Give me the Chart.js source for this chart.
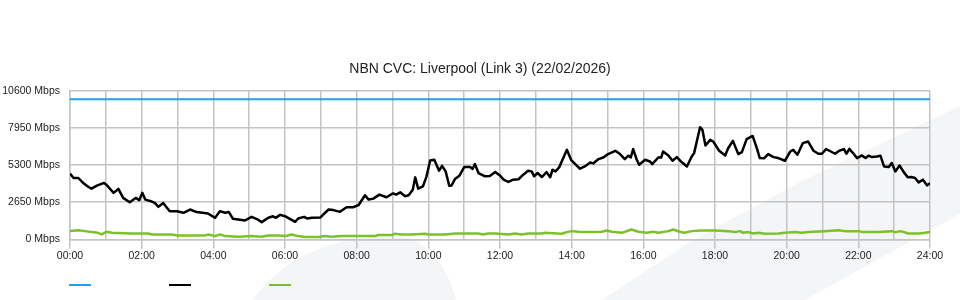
<!DOCTYPE html>
<html>
<head>
<meta charset="utf-8">
<title>NBN CVC: Liverpool (Link 3)</title>
<script src="https://cdn.jsdelivr.net/npm/chart.js@4/dist/chart.umd.min.js"></script>
<style>
  html, body { margin: 0; padding: 0; background: #fff; }
  #chart { display: block; }
</style>
</head>
<body>
<canvas id="chart" width="960" height="300"></canvas>
<script>
// ------------------------------------------------------
// Data (minutes since midnight, Mbps)
// ------------------------------------------------------
const chartTitle = 'NBN CVC: Liverpool (Link 3) (22/02/2026)';

const timeLabels = ['00:00', '02:00', '04:00', '06:00', '08:00', '10:00', '12:00',
  '14:00', '16:00', '18:00', '20:00', '22:00', '24:00'];
const yTicks = [0, 2650, 5300, 7950, 10600];

// CVC capacity
const capacityMinutes = [0, 1440];
const capacityMbps = [10000, 10000];

// download traffic (black)
const downMinutes = [
  0, 6, 14, 22, 31, 36, 45, 57, 61, 73,
  81, 89, 100, 110, 116, 121, 126, 137, 142, 148,
  156, 167, 179, 190, 201, 212, 231, 243, 251, 260,
  266, 273, 293, 304, 313, 321, 332, 340, 344, 352,
  360, 377, 382, 392, 397, 405, 419, 424, 433, 441,
  452, 463, 474, 483, 494, 500, 508, 518, 530, 541,
  546, 553, 561, 567, 574, 578, 583, 591, 597, 603,
  610, 618, 623, 629, 635, 639, 645, 652, 660, 670,
  674, 678, 684, 695, 703, 712, 720, 726, 734, 742,
  751, 759, 767, 773, 777, 783, 790, 798, 804, 808,
  813, 819, 832, 839, 846, 854, 862, 871, 876, 885,
  893, 901, 913, 921, 929, 935, 939, 943, 949, 953,
  963, 971, 975, 985, 990, 993, 1002, 1009, 1016, 1024,
  1033, 1041, 1045, 1055, 1059, 1064, 1072, 1077, 1080, 1087,
  1097, 1102, 1110, 1119, 1125, 1133, 1143, 1150, 1155, 1162,
  1169, 1178, 1186, 1193, 1197, 1206, 1211, 1218, 1227, 1236,
  1245, 1253, 1259, 1266, 1274, 1281, 1288, 1296, 1300, 1305,
  1312, 1318, 1326, 1332, 1337, 1343, 1351, 1357, 1363, 1371,
  1376, 1382, 1389, 1396, 1403, 1409, 1415, 1421, 1428, 1435,
  1440
];
const downMbps = [
  4690, 4380, 4380, 4030, 3740, 3620, 3830, 4030, 3900, 3320,
  3600, 2960, 2650, 2960, 2800, 3320, 2840, 2700, 2600, 2320,
  2600, 2010, 2010, 1900, 2130, 1950, 1850, 1540, 2010, 1900,
  1950, 1470, 1350, 1610, 1450, 1230, 1540, 1650, 1540, 1750,
  1655, 1255, 1490, 1610, 1490, 1540, 1560, 1775, 2130, 2090,
  1965, 2295, 2295, 2440, 3150, 2840, 2910, 3195, 3005, 3290,
  3195, 3360, 3075, 3150, 3550, 4425, 3620, 3785, 4500, 5630,
  5680, 4900, 5250, 4850, 3830, 3850, 4330, 4540, 5160, 5160,
  5020, 5370, 4735, 4500, 4520, 4800, 4560, 4260, 4095, 4260,
  4290, 4615, 4900, 4850, 4500, 4735, 4450, 4800, 4430, 4970,
  4850, 5135, 6390, 5680, 5370, 5040, 5205, 5490, 5420, 5730,
  5845, 6085, 6320, 6085, 5730, 5970, 5845, 6440, 5680, 5325,
  5680, 5560, 5370, 5845, 5845, 6270, 5990, 5610, 5870, 5515,
  5205, 5915, 6155, 8000, 7810, 6700, 7100, 6980, 6790, 6320,
  5990, 6500, 7030, 6085, 6230, 7150, 7380, 6510, 5800, 5780,
  6085, 5870, 5800, 5680, 5610, 6270, 6390, 6040, 6865, 6980,
  6320, 6110, 6110, 6440, 6270, 6110, 6320, 6440, 6110, 6460,
  6110, 5800, 5990, 5800, 5970, 5870, 5915, 5970, 5205, 5160,
  5445, 4850, 5275, 4800, 4425, 4450, 4380, 4070, 4260, 3855,
  4000
];

// upload traffic (green)
const upMinutes = [
  0, 14, 25, 36, 47, 53, 61, 70, 103, 131,
  137, 170, 181, 226, 232, 243, 251, 260, 282, 304,
  321, 332, 349, 360, 371, 382, 394, 416, 427, 438,
  455, 483, 511, 516, 538, 544, 555, 572, 595, 600,
  628, 645, 684, 692, 700, 712, 734, 745, 756, 767,
  790, 795, 823, 832, 840, 851, 862, 890, 899, 907,
  924, 940, 952, 966, 977, 985, 1002, 1010, 1021, 1029,
  1041, 1055, 1080, 1102, 1113, 1122, 1127, 1136, 1144, 1153,
  1164, 1186, 1197, 1214, 1225, 1236, 1264, 1287, 1298, 1321,
  1327, 1354, 1376, 1382, 1391, 1404, 1421, 1432, 1440
];
const upMbps = [
  590, 660, 590, 520, 470, 355, 545, 470, 426, 426,
  355, 355, 284, 284, 355, 236, 355, 236, 190, 236,
  190, 284, 284, 236, 355, 236, 165, 165, 236, 190,
  236, 236, 236, 310, 310, 400, 355, 355, 400, 355,
  355, 426, 426, 355, 426, 426, 355, 426, 355, 426,
  426, 470, 400, 520, 590, 545, 520, 545, 640, 545,
  470, 710, 545, 470, 545, 470, 590, 710, 545, 470,
  590, 640, 640, 590, 520, 590, 470, 520, 426, 470,
  400, 426, 470, 520, 470, 520, 590, 660, 590, 590,
  520, 520, 590, 520, 590, 426, 426, 470, 520
];

// ------------------------------------------------------
// Helpers / plugins
// ------------------------------------------------------
const FONT = "'Liberation Sans', Arial, Helvetica, sans-serif";
const GRID = '#c4c4c4';

function toPoints(xs, ys) {
  return xs.map((x, i) => ({ x: x, y: ys[i] }));
}

// faint background logo shapes
const watermark = {
  id: 'watermark',
  beforeDraw(chart) {
    const ctx = chart.ctx;
    ctx.save();
    ctx.fillStyle = '#f4f5f7';
    ctx.beginPath();
    ctx.moveTo(252, 300);
    ctx.quadraticCurveTo(300, 236, 395, 236);
    ctx.quadraticCurveTo(440, 240, 456, 300);
    ctx.closePath();
    ctx.fill();
    ctx.beginPath();
    ctx.moveTo(602, 300);
    ctx.lineTo(693, 240);
    ctx.lineTo(800, 182);
    ctx.lineTo(960, 106);
    ctx.lineTo(960, 214);
    ctx.lineTo(805, 300);
    ctx.closePath();
    ctx.fill();
    ctx.restore();
  }
};

// legend: short coloured strokes only, no text
const lineLegend = {
  id: 'lineLegend',
  afterDraw(chart) {
    const ctx = chart.ctx;
    const left = chart.chartArea.left - 1;
    ctx.save();
    ctx.lineWidth = 2;
    chart.data.datasets.forEach((ds, i) => {
      ctx.strokeStyle = ds.borderColor;
      ctx.beginPath();
      ctx.moveTo(left + i * 100, 285);
      ctx.lineTo(left + i * 100 + 22, 285);
      ctx.stroke();
    });
    ctx.restore();
  }
};

// ------------------------------------------------------
// Chart
// ------------------------------------------------------
const ctx = document.getElementById('chart').getContext('2d');
const chart = new Chart(ctx, {
  type: 'line',
  data: {
    datasets: [
      {
        label: 'Capacity',
        data: toPoints(capacityMinutes, capacityMbps),
        borderColor: '#1ba3e6',
        borderWidth: 2
      },
      {
        label: 'Download',
        data: toPoints(downMinutes, downMbps),
        borderColor: '#000000',
        borderWidth: 2.5
      },
      {
        label: 'Upload',
        data: toPoints(upMinutes, upMbps),
        borderColor: '#7cc127',
        borderWidth: 2.5
      }
    ]
  },
  options: {
    responsive: false,
    animation: false,
    layout: { padding: { left: 0, right: 0, top: 0, bottom: 37 } },
    elements: {
      point: { radius: 0 },
      line: { tension: 0, borderJoinStyle: 'round' }
    },
    plugins: {
      legend: { display: false },
      tooltip: { enabled: false },
      title: {
        display: true,
        text: chartTitle,
        color: '#222',
        font: { family: FONT, size: 14, weight: 'normal' },
        padding: { top: 61, bottom: 13 }
      }
    },
    scales: {
      x: {
        type: 'linear',
        min: 0,
        max: 1440,
        grid: {
          color: GRID,
          lineWidth: 1.5,
          tickLength: 9,
          tickColor: c => (c.tick && c.tick.value % 120 === 0) ? GRID : 'rgba(0,0,0,0)'
        },
        border: { display: true, color: GRID, width: 1.5 },
        ticks: {
          stepSize: 60,
          autoSkip: false,
          maxRotation: 0,
          padding: 1,
          color: '#222',
          font: { family: FONT, size: 10.5 },
          callback: v => (v % 120 === 0) ? timeLabels[v / 120] : ''
        }
      },
      y: {
        min: 0,
        max: 10600,
        afterBuildTicks: axis => { axis.ticks = yTicks.map(v => ({ value: v })); },
        afterFit: axis => { axis.width = 70; },
        grid: { color: GRID, lineWidth: 1.5, drawTicks: false },
        border: { display: true, color: GRID, width: 1.5 },
        ticks: {
          padding: 10,
          color: '#222',
          font: { family: FONT, size: 10.5 },
          callback: v => v + ' Mbps'
        }
      },
      // empty right-hand spacer so the title stays centred on the canvas
      spacer: {
        position: 'right',
        afterFit: axis => { axis.width = 30; },
        grid: { display: false },
        border: { display: false },
        ticks: { display: false }
      }
    }
  },
  plugins: [watermark, lineLegend]
});
</script>
</body>
</html>
